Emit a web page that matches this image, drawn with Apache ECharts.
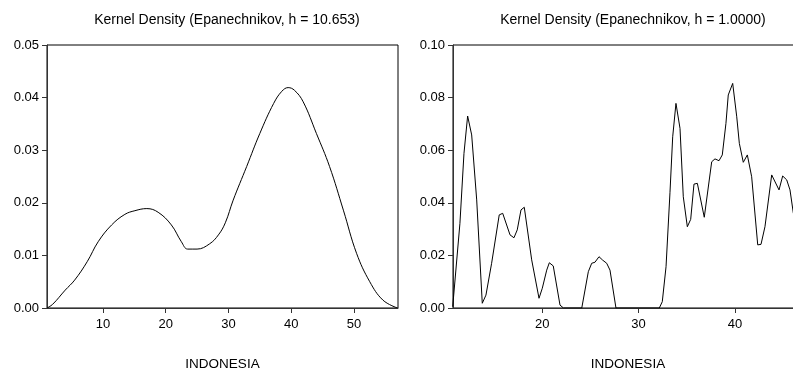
<!DOCTYPE html>
<html>
<head>
<meta charset="utf-8">
<script src="https://cdn.jsdelivr.net/npm/echarts@6/dist/echarts.min.js"></script>
<style>html,body{margin:0;padding:0;background:#fff}#c{width:793px;height:372px}</style>
</head>
<body>
<div id="c"></div>
<script>
// Left panel: Epanechnikov, h = 10.653
const leftX = [1.1, 2, 4, 5.5, 7.5, 9.25, 11.4, 13.5, 15.1, 17, 18.8, 20.9, 22.5, 23.5, 25, 27, 28.4, 29.5, 30.75, 32.9, 35, 37.2, 38.5, 39.5, 40.5, 41.9, 44, 46.1, 48.3, 50.4, 52.5, 54.6, 56.9];
const leftY = [0.0000, 0.0007, 0.0034, 0.0053, 0.0088, 0.0126, 0.0158, 0.0178, 0.0185, 0.0189, 0.0182, 0.0158, 0.0126, 0.0112, 0.0112, 0.0122, 0.0139, 0.0162, 0.0205, 0.0269, 0.0332, 0.0389, 0.0412, 0.0419, 0.0414, 0.0392, 0.0332, 0.0269, 0.0186, 0.0104, 0.0050, 0.0015, 0.0000];
// Right panel: Epanechnikov, h = 1.0000
const rightX = [10.7, 11.45, 11.87, 12.25, 12.67, 13.19, 13.77, 14.15, 14.74, 15.53, 15.89, 16.65, 17.06, 17.40, 17.79, 18.13, 18.9, 19.66, 20.0, 20.46, 20.73, 21.14, 21.84, 22.2, 24.1, 24.78, 25.13, 25.47, 25.89, 26.27, 26.69, 27.03, 27.65, 32.15, 32.46, 32.85, 33.26, 33.54, 33.88, 34.3, 34.64, 35.06, 35.41, 35.75, 36.1, 36.82, 37.59, 37.93, 38.35, 38.69, 39.07, 39.31, 39.77, 40.19, 40.46, 40.87, 41.29, 41.74, 42.37, 42.71, 43.12, 43.82, 44.58, 44.96, 45.38, 45.72, 46.07];
const rightY = [0.0005, 0.0322, 0.0588, 0.0730, 0.0658, 0.0411, 0.0018, 0.0049, 0.0170, 0.0354, 0.0360, 0.0278, 0.0267, 0.0297, 0.0373, 0.0383, 0.0183, 0.0037, 0.0075, 0.0144, 0.0172, 0.0160, 0.0011, 0.0000, 0.0000, 0.0138, 0.0170, 0.0174, 0.0195, 0.0182, 0.0170, 0.0144, 0.0000, 0.0000, 0.0024, 0.0157, 0.0440, 0.0651, 0.0778, 0.0683, 0.0423, 0.0309, 0.0337, 0.0471, 0.0474, 0.0345, 0.0556, 0.0567, 0.0560, 0.0582, 0.0702, 0.0810, 0.0854, 0.0727, 0.0626, 0.0554, 0.0582, 0.0499, 0.0240, 0.0242, 0.0309, 0.0506, 0.0449, 0.0502, 0.0487, 0.0449, 0.0360];
const leftXTicks = [10, 20, 30, 40, 50];
const rightXTicks = [20, 30, 40];
const titles = ['Kernel Density (Epanechnikov, h = 10.653)', 'Kernel Density (Epanechnikov, h = 1.0000)'];
const axisName = 'INDONESIA';

const FONT = 'Liberation Sans, Arial, sans-serif';
const pair = (xs, ys) => xs.map((x, i) => [x, ys[i]]);

function xAxisCfg(idx, min, max, ticks) {
  return {
    type: 'value', gridIndex: idx, min: min, max: max,
    name: axisName, nameLocation: 'middle', nameGap: 49,
    nameTextStyle: { color: '#000', fontFamily: FONT, fontSize: 13.5 },
    axisLine: { show: true, onZero: false, lineStyle: { color: '#333', width: 1 } },
    axisTick: { show: true, customValues: ticks, length: 5, lineStyle: { color: '#333' } },
    axisLabel: { customValues: ticks, color: '#000', fontFamily: FONT, fontSize: 13, margin: 10 },
    splitLine: { show: false }
  };
}
function yAxisCfg(idx, max, interval) {
  return {
    type: 'value', gridIndex: idx, min: 0, max: max, interval: interval,
    axisLine: { show: true, lineStyle: { color: '#333', width: 1 } },
    axisTick: { show: true, length: 5, lineStyle: { color: '#333' } },
    axisLabel: { color: '#000', fontFamily: FONT, fontSize: 13, margin: 8,
      formatter: v => v.toFixed(2) },
    splitLine: { show: false }
  };
}

const chart = echarts.init(document.getElementById('c'), null, { renderer: 'canvas' });
chart.setOption({
  animation: false,
  backgroundColor: '#fff',
  title: [
    { text: titles[0], left: 222, top: 8, textAlign: 'center',
      textStyle: { color: '#000', fontFamily: FONT, fontSize: 14, fontWeight: 'normal' } },
    { text: titles[1], left: 628, top: 8, textAlign: 'center',
      textStyle: { color: '#000', fontFamily: FONT, fontSize: 14, fontWeight: 'normal' } }
  ],
  grid: [
    { left: 47, top: 45, width: 351, height: 263, outerBoundsMode: 'none', containLabel: false,
      show: true, borderColor: '#000', borderWidth: 1, backgroundColor: 'transparent' },
    { left: 453, top: 45, width: 350, height: 263, outerBoundsMode: 'none', containLabel: false,
      show: true, borderColor: '#000', borderWidth: 1, backgroundColor: 'transparent' }
  ],
  xAxis: [ xAxisCfg(0, 1.1, 57.0, leftXTicks), xAxisCfg(1, 10.73, 47.07, rightXTicks) ],
  yAxis: [ yAxisCfg(0, 0.05, 0.01), yAxisCfg(1, 0.10, 0.02) ],
  series: [
    { type: 'line', xAxisIndex: 0, yAxisIndex: 0, data: pair(leftX, leftY), smooth: 0.4,
      showSymbol: false, lineStyle: { color: '#000', width: 1 } },
    { type: 'line', xAxisIndex: 1, yAxisIndex: 1, data: pair(rightX, rightY), smooth: false,
      showSymbol: false, lineStyle: { color: '#000', width: 1 } }
  ]
});
</script>
</body>
</html>
